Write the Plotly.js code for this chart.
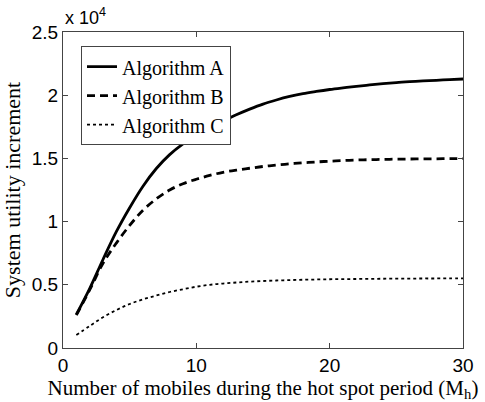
<!DOCTYPE html>
<html><head><meta charset="utf-8">
<script src="https://cdn.plot.ly/plotly-3.0.1.min.js"></script>
<style>html,body{margin:0;padding:0;background:#fff}#c{width:485px;height:402px}</style>
</head><body><div id="c"></div>
<script>
// Number of mobiles during hot spot period
const mobiles = [1,2,3,4,5,6,7,8,9,10,11,12,13,14,15,16,17,18,19,20,21,22,23,24,25,26,27,28,29,30];
// System utility increment, in units of 10^4
const algA = [0.265,0.47,0.70,0.92,1.11,1.28,1.42,1.53,1.615,1.685,1.745,1.795,1.845,1.89,1.93,1.962,1.99,2.013,2.03,2.045,2.058,2.07,2.081,2.091,2.1,2.107,2.113,2.118,2.123,2.128];
const algB = [0.26,0.46,0.67,0.83,0.97,1.09,1.18,1.25,1.30,1.335,1.365,1.39,1.407,1.422,1.436,1.447,1.457,1.465,1.472,1.478,1.483,1.487,1.49,1.492,1.494,1.495,1.496,1.497,1.498,1.498];
const algC = [0.103,0.174,0.243,0.30,0.348,0.385,0.415,0.443,0.465,0.485,0.50,0.51,0.518,0.525,0.53,0.534,0.537,0.54,0.542,0.544,0.545,0.546,0.547,0.548,0.549,0.549,0.55,0.55,0.551,0.551];
const seriesNames = ['Algorithm A','Algorithm B','Algorithm C'];
const xTicks = [0,10,20,30];
const yTicks = [0,0.5,1,1.5,2,2.5];
const yTickText = ['0','0.5','1','1.5','2','2.5'];

const traces = [
  {x: mobiles, y: algA, name: seriesNames[0], mode:'lines', line:{color:'#000', width:2.8, dash:'solid', shape:'spline'}},
  {x: mobiles, y: algB, name: seriesNames[1], mode:'lines', line:{color:'#000', width:2.8, dash:'8px,5px', shape:'spline'}},
  {x: mobiles, y: algC, name: seriesNames[2], mode:'lines', line:{color:'#000', width:1.8, dash:'dot', shape:'spline'}}
];
const serif = 'Liberation Serif, Times New Roman, serif';
const sans = 'Liberation Sans, Arial, sans-serif';
const axisCommon = {
  showline:true, linecolor:'#444', linewidth:1, mirror:'ticks',
  ticks:'inside', ticklen:5, tickcolor:'#444', showgrid:false, zeroline:false,
  tickfont:{family:sans, size:19, color:'#000'}
};
const layout = {
  width:485, height:402,
  margin:{l:63, r:22, t:32, b:54},
  paper_bgcolor:'#fff', plot_bgcolor:'#fff',
  showlegend:true,
  legend:{x:0.045, y:0.955, xanchor:'left', yanchor:'top', bgcolor:'#fff', bordercolor:'#444', borderwidth:1,
          font:{family:serif, size:20, color:'#000'}, tracegroupgap:0},
  xaxis: Object.assign({}, axisCommon, {range:[0,30], tickvals:xTicks, ticktext:xTicks.map(String),
    title:{text:'Number of mobiles during the hot spot period (M<sub>h</sub>)', standoff:2,
      font:{family:serif, size:21, color:'#000'}}}),
  yaxis: Object.assign({}, axisCommon, {range:[0,2.5], tickvals:yTicks, ticktext:yTickText,
    title:{text:'System utility increment', standoff:6,
      font:{family:serif, size:22, color:'#000'}}}),
  annotations:[{xref:'paper', yref:'paper', x:0, y:1, xanchor:'left', yanchor:'bottom', yshift:2, showarrow:false,
    text:'x 10<sup>4</sup>', font:{family:sans, size:18, color:'#000'}}]
};
Plotly.newPlot('c', traces, layout, {displayModeBar:false, staticPlot:true});
</script>
</body></html>
